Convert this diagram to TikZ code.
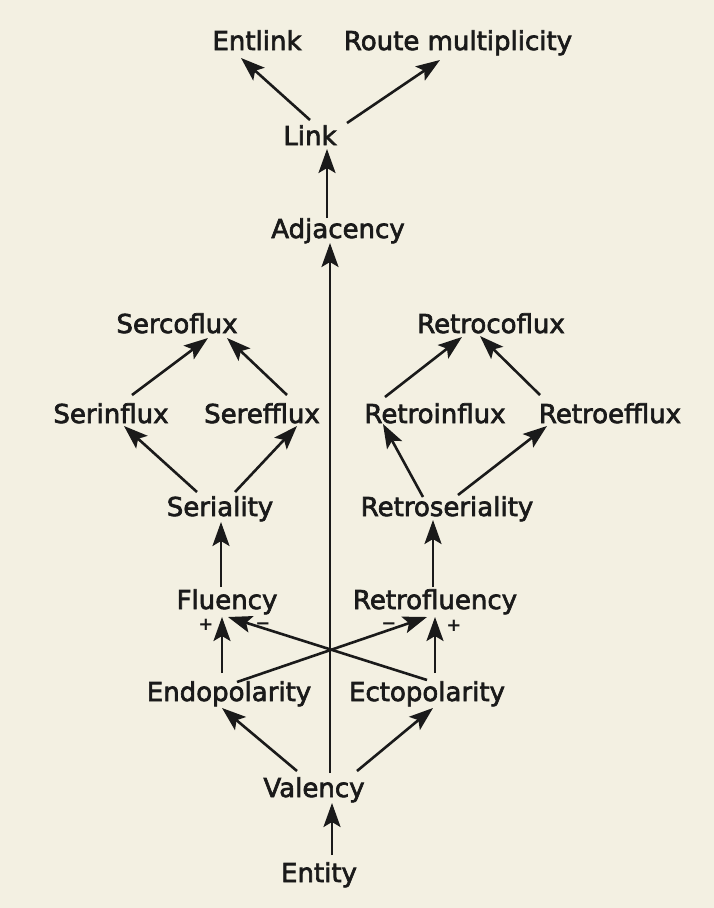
\documentclass[tikz,border=0pt]{standalone}
\usepackage{fontspec}
\setmainfont{DejaVu Sans}
\newfontfamily\termfont{DejaVu Sans}[FakeBold=2.5]
\newfontfamily\signfont{DejaVu Sans Bold}
\usetikzlibrary{arrows.meta}
\definecolor{paper}{HTML}{F3F0E2}
\definecolor{ink}{HTML}{1A1A1A}
\begin{document}
\begin{tikzpicture}[x=1pt,y=-1pt,
  term/.style={anchor=base,inner sep=0pt,text=ink,font=\termfont\fontsize{26}{30}\selectfont},
  sign/.style={inner sep=0pt,text=ink,font=\signfont\fontsize{18}{20}\selectfont},
  arr/.style={draw=ink,line width=2.6pt,-{Stealth[length=24pt,width=17pt,inset=5pt]}}]
\fill[paper] (0,0) rectangle (714,908);
\useasboundingbox (0,0) rectangle (714,908);

% terms, placed by their baselines
\node[term] (entlink) at (257,50) {Entlink};
\node[term] (route) at (458,50) {Route multiplicity};
\node[term] (link) at (310,145) {Link};
\node[term] (adj) at (338,238) {Adjacency};
\node[term] (serco) at (177,333) {Sercoflux};
\node[term] (retroco) at (491,333) {Retrocoflux};
\node[term] (serin) at (111,423) {Serinflux};
\node[term] (seref) at (262,423) {Serefflux};
\node[term] (retroin) at (435,423) {Retroinflux};
\node[term] (retroef) at (610,423) {Retroefflux};
\node[term] (serial) at (220,516) {Seriality};
\node[term] (retroser) at (447,516) {Retroseriality};
\node[term] (fluency) at (227,609) {Fluency};
\node[term] (retrofl) at (435,609) {Retrofluency};
\node[term] (endo) at (229,701) {Endopolarity};
\node[term] (ecto) at (427,701) {Ectopolarity};
\node[term] (valency) at (314,797) {Valency};
\node[term] (entity) at (319,882) {Entity};

% polarity signs beside the fluency arrows
\node[sign] (pfl) at (206,625) {+};
\node[sign] (mfl) at (263,626) {−};
\node[sign] (mrf) at (389,626) {−};
\node[sign] (prf) at (454,626) {+};

% connectors
\draw[arr] ([shift={(13,-27)}]entity.base) -- ([shift={(18,6)}]valency.base);
\draw[arr] ([shift={(-17,-26)}]valency.base) -- ([shift={(-7,7)}]endo.base);
\draw[arr] ([shift={(43,-26)}]valency.base) -- ([shift={(6,7)}]ecto.base);
\draw[arr] ([shift={(16,-24)}]valency.base) -- ([shift={(-8,5)}]adj.base);
\draw[arr] ([shift={(-7,-28)}]endo.base) -- ([shift={(-5,8)}]fluency.base);
\draw[arr] ([shift={(8,-28)}]ecto.base) -- ([shift={(0,8)}]retrofl.base);
\draw[arr] ([shift={(8,-19)}]endo.base) -- ([shift={(-8,8)}]retrofl.base);
\draw[arr] ([shift={(0,-21)}]ecto.base) -- ([shift={(1,8)}]fluency.base);
\draw[arr] ([shift={(-6,-22)}]fluency.base) -- ([shift={(1,6)}]serial.base);
\draw[arr] ([shift={(-2,-22)}]retrofl.base) -- ([shift={(-14,4)}]retroser.base);
\draw[arr] ([shift={(-23,-24)}]serial.base) -- ([shift={(13,3)}]serin.base);
\draw[arr] ([shift={(15,-24)}]serial.base) -- ([shift={(35,3)}]seref.base);
\draw[arr] ([shift={(21,-28)}]serin.base) -- ([shift={(31,5)}]serco.base);
\draw[arr] ([shift={(25,-28)}]seref.base) -- ([shift={(50,5)}]serco.base);
\draw[arr] ([shift={(-24,-19)}]retroser.base) -- ([shift={(-52,1)}]retroin.base);
\draw[arr] ([shift={(11,-21)}]retroser.base) -- ([shift={(-63,3)}]retroef.base);
\draw[arr] ([shift={(-50,-26)}]retroin.base) -- ([shift={(-29,4)}]retroco.base);
\draw[arr] ([shift={(-70,-28)}]retroef.base) -- ([shift={(-11,3)}]retroco.base);
\draw[arr] ([shift={(-11,-20)}]adj.base) -- ([shift={(17,4)}]link.base);
\draw[arr] ([shift={(0,-25)}]link.base) -- ([shift={(-16,8)}]entlink.base);
\draw[arr] ([shift={(37,-22)}]link.base) -- ([shift={(-18,10)}]route.base);
\end{tikzpicture}
\end{document}
